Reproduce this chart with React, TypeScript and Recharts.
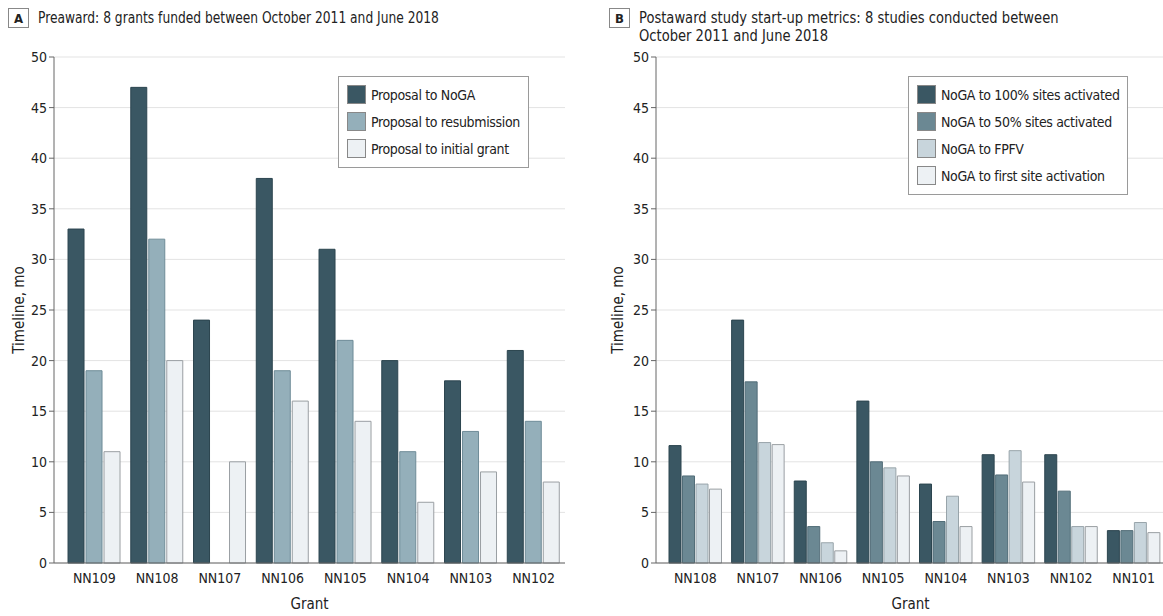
import React from "react";
import {
  BarChart,
  Bar,
  XAxis,
  YAxis,
  CartesianGrid,
  Legend,
} from "recharts";

// panel A: preaward
const preawardGrants = ["NN109", "NN108", "NN107", "NN106", "NN105", "NN104", "NN103", "NN102"];
const proposalToNoga = [33, 47, 24, 38, 31, 20, 18, 21];
const proposalToResubmission = [19, 32, null, 19, 22, 11, 13, 14];
const proposalToInitial = [11, 20, 10, 16, 14, 6, 9, 8];
const preawardSeries = ["Proposal to NoGA", "Proposal to resubmission", "Proposal to initial grant"];

// panel B: postaward
const postawardGrants = ["NN108", "NN107", "NN106", "NN105", "NN104", "NN103", "NN102", "NN101"];
const noga100Sites = [11.6, 24, 8.1, 16, 7.8, 10.7, 10.7, 3.2];
const noga50Sites = [8.6, 17.9, 3.6, 10, 4.1, 8.7, 7.1, 3.2];
const nogaFpfv = [7.8, 11.9, 2, 9.4, 6.6, 11.1, 3.6, 4];
const nogaFirstSite = [7.3, 11.7, 1.2, 8.6, 3.6, 8, 3.6, 3];
const postawardSeries = [
  "NoGA to 100% sites activated",
  "NoGA to 50% sites activated",
  "NoGA to FPFV",
  "NoGA to first site activation",
];

const yTicks = [0, 5, 10, 15, 20, 25, 30, 35, 40, 45, 50];

const FONT = "'DejaVu Sans Condensed', 'DejaVu Sans', sans-serif";
const DARK = "#3a5763";

const preawardData = preawardGrants.map((grant, i) => ({
  grant,
  noga: proposalToNoga[i],
  resub: proposalToResubmission[i],
  initial: proposalToInitial[i],
}));

const postawardData = postawardGrants.map((grant, i) => ({
  grant,
  full: noga100Sites[i],
  half: noga50Sites[i],
  fpfv: nogaFpfv[i],
  first: nogaFirstSite[i],
}));

function BoxLegend({ payload, order }: any) {
  const items = [...(payload || [])].sort(
    (a: any, b: any) => order.indexOf(a.value) - order.indexOf(b.value)
  );
  return (
    <div
      style={{
        border: "1px solid #9a9a9a",
        background: "#fff",
        padding: "4px 9px 5px 8px",
        fontFamily: FONT,
        fontSize: 14,
        letterSpacing: -0.35,
        color: "#222",
        whiteSpace: "nowrap",
      }}
    >
      {items.map((entry: any) => (
        <div
          key={entry.value}
          style={{ display: "flex", alignItems: "center", height: 27 }}
        >
          <span
            style={{
              display: "inline-block",
              width: 17,
              height: 17,
              background: entry.color,
              border: "1px solid #888",
              marginRight: 5,
              flexShrink: 0,
            }}
          />
          {entry.value}
        </div>
      ))}
    </div>
  );
}

function PanelTitle({
  letter,
  lines,
  left,
  squeeze,
}: {
  letter: string;
  lines: string[];
  left: number;
  squeeze: number;
}) {
  return (
    <div
      style={{
        position: "absolute",
        left,
        top: 8,
        display: "flex",
        alignItems: "flex-start",
        color: "#222",
      }}
    >
      <div
        style={{
          width: 21,
          height: 20,
          border: "1px solid #888",
          fontWeight: "bold",
          fontSize: 13,
          fontFamily: FONT,
          display: "flex",
          alignItems: "center",
          justifyContent: "center",
          marginRight: 9,
          boxSizing: "border-box",
        }}
      >
        {letter}
      </div>
      <div
        style={{
          fontSize: 15.5,
          lineHeight: "18px",
          marginTop: 1,
          fontFamily: FONT,
          whiteSpace: "nowrap",
          transform: `scaleX(${squeeze})`,
          transformOrigin: "left top",
        }}
      >
        {lines.map((l) => (
          <div key={l}>{l}</div>
        ))}
      </div>
    </div>
  );
}

const tickStyle = { fontSize: 14, fill: "#222", fontFamily: FONT };
const axisLabelStyle = { fontSize: 15, fill: "#222", fontFamily: FONT, textAnchor: "middle" as const };

export default function App() {
  return (
    <div
      style={{
        position: "fixed",
        left: 0,
        top: 0,
        width: 1163,
        height: 616,
        overflow: "hidden",
        background: "#fff",
      }}
    >
      <PanelTitle
        letter="A"
        left={8}
        squeeze={0.88}
        lines={["Preaward: 8 grants funded between October 2011 and June 2018"]}
      />
      <PanelTitle
        letter="B"
        left={609}
        squeeze={0.94}
        lines={[
          "Postaward study start-up metrics: 8 studies conducted between",
          "October 2011 and June 2018",
        ]}
      />

      <div style={{ position: "absolute", left: 0, top: 0 }}>
        <BarChart
          width={580}
          height={616}
          data={preawardData}
          margin={{ top: 57, right: 15, bottom: 0, left: 0 }}
          barCategoryGap="8%"
          barGap={2}
        >
          <CartesianGrid vertical={false} stroke="#e3e3e3" />
          <XAxis
            dataKey="grant"
            height={53}
            padding={{ left: 9, right: 0 }}
            tickLine={false}
            stroke="#666"
            tick={tickStyle}
            tickMargin={4}
            label={{ value: "Grant", position: "insideBottom", offset: 7, style: axisLabelStyle }}
          />
          <YAxis
            width={54}
            domain={[0, 50]}
            ticks={yTicks}
            interval={0}
            stroke="#666"
            tickSize={5}
            tick={tickStyle}
            label={{ value: "Timeline, mo", angle: -90, position: "insideLeft", offset: 19, style: axisLabelStyle }}
          />
          <Legend
            layout="vertical"
            align="center"
            verticalAlign="middle"
            content={<BoxLegend order={preawardSeries} />}
            wrapperStyle={{ position: "absolute", left: 338, top: 76, width: 191 }}
          />
          <Bar dataKey="noga" name={preawardSeries[0]} fill={DARK} stroke="#2c454f" isAnimationActive={false} />
          <Bar dataKey="resub" name={preawardSeries[1]} fill="#94afba" stroke="#6f8c98" isAnimationActive={false} />
          <Bar dataKey="initial" name={preawardSeries[2]} fill="#edf1f4" stroke="#9a9fa3" isAnimationActive={false} />
        </BarChart>
      </div>

      <div style={{ position: "absolute", left: 580, top: 0 }}>
        <BarChart
          width={590}
          height={616}
          data={postawardData}
          margin={{ top: 57, right: 5, bottom: 0, left: 0 }}
          barCategoryGap="8%"
          barGap={1.5}
        >
          <CartesianGrid vertical={false} stroke="#e3e3e3" />
          <XAxis
            dataKey="grant"
            height={53}
            padding={{ left: 8, right: 0 }}
            tickLine={false}
            stroke="#666"
            tick={tickStyle}
            tickMargin={4}
            label={{ value: "Grant", position: "insideBottom", offset: 7, style: axisLabelStyle }}
          />
          <YAxis
            width={76}
            domain={[0, 50]}
            ticks={yTicks}
            interval={0}
            stroke="#666"
            tickSize={5}
            tick={tickStyle}
            label={{ value: "Timeline, mo", angle: -90, position: "insideLeft", offset: 38, style: axisLabelStyle }}
          />
          <Legend
            layout="vertical"
            align="center"
            verticalAlign="middle"
            content={<BoxLegend order={postawardSeries} />}
            wrapperStyle={{ position: "absolute", left: 328, top: 76, width: 220 }}
          />
          <Bar dataKey="full" name={postawardSeries[0]} fill={DARK} stroke="#2c454f" isAnimationActive={false} />
          <Bar dataKey="half" name={postawardSeries[1]} fill="#6b8893" stroke="#526d78" isAnimationActive={false} />
          <Bar dataKey="fpfv" name={postawardSeries[2]} fill="#c8d5dc" stroke="#98a4aa" isAnimationActive={false} />
          <Bar dataKey="first" name={postawardSeries[3]} fill="#edf1f4" stroke="#9a9fa3" isAnimationActive={false} />
        </BarChart>
      </div>
    </div>
  );
}
